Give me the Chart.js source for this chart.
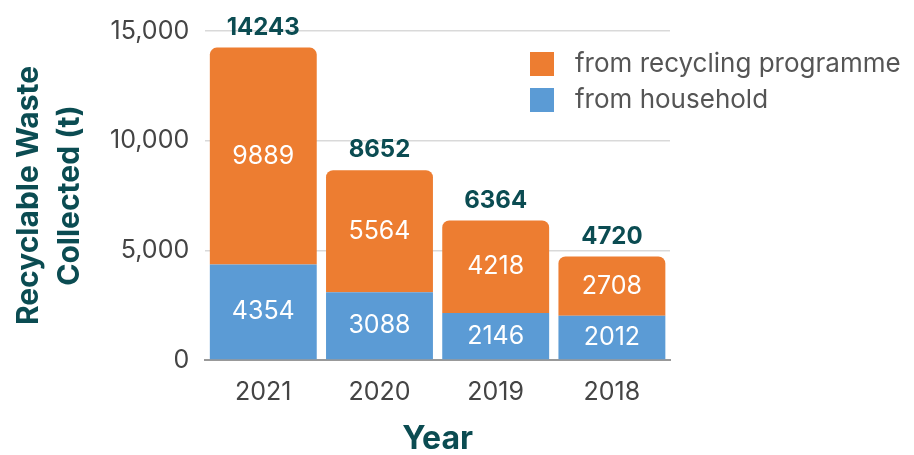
<!DOCTYPE html>
<html lang="en">
<head>
  <meta charset="UTF-8">
  <title>Recyclable Waste Collected</title>
  <script src="https://cdn.jsdelivr.net/npm/chart.js"></script>
  <style>
    body { margin: 0; background: #fff; }
    .chart-container { width: 914px; height: 455px; }
  </style>
</head>
<body>
  <div class="chart-container">
    <canvas id="wasteChart"></canvas>
  </div>

  <script>
    const years = ['2021', '2020', '2019', '2018'];
    const household = [4354, 3088, 2146, 2012];
    const programme = [9889, 5564, 4218, 2708];
    const totals = [14243, 8652, 6364, 4720];
    const yTicks = [0, 5000, 10000, 15000];

    const FONT = 'Inter, "Noto Sans", sans-serif';
    const TEAL = '#0b4c52';
    const ORANGE = '#ed7d31';
    const BLUE = '#5b9bd5';

    // white value labels inside segments + totals above each bar
    const labelPlugin = {
      id: 'labels',
      afterDatasetsDraw(chart) {
        const ctx = chart.ctx;
        ctx.save();
        ctx.textAlign = 'center';
        ctx.textBaseline = 'middle';
        chart.data.datasets.forEach((ds, i) => {
          const meta = chart.getDatasetMeta(i);
          meta.data.forEach((bar, j) => {
            ctx.fillStyle = '#fff';
            ctx.font = '25px ' + FONT;
            ctx.fillText(ds.data[j], bar.x, (bar.y + bar.base) / 2);
          });
        });
        const top = chart.getDatasetMeta(chart.data.datasets.length - 1);
        top.data.forEach((bar, j) => {
          ctx.fillStyle = TEAL;
          ctx.font = 'bold 24px ' + FONT;
          ctx.fillText(totals[j], bar.x, bar.y - 20);
        });
        ctx.restore();
      }
    };

    // legend drawn over the upper right corner
    const legendPlugin = {
      id: 'cornerLegend',
      afterDraw(chart) {
        const ctx = chart.ctx;
        const items = chart.data.datasets.slice().reverse();
        ctx.save();
        ctx.textBaseline = 'middle';
        ctx.textAlign = 'left';
        ctx.font = '26px ' + FONT;
        items.forEach((ds, i) => {
          const y = 64 + i * 36;
          ctx.fillStyle = ds.backgroundColor;
          ctx.fillRect(530, y - 12, 24, 24);
          ctx.fillStyle = '#555';
          ctx.fillText(ds.label, 575, y);
        });
        ctx.restore();
      }
    };

    new Chart(document.getElementById('wasteChart'), {
      type: 'bar',
      data: {
        labels: years,
        datasets: [
          {
            label: 'from household',
            data: household,
            backgroundColor: BLUE,
            borderRadius: 0
          },
          {
            label: 'from recycling programme',
            data: programme,
            backgroundColor: ORANGE,
            borderRadius: { topLeft: 7, topRight: 7, bottomLeft: 0, bottomRight: 0 },
            borderSkipped: false
          }
        ]
      },
      options: {
        responsive: true,
        maintainAspectRatio: false,
        animation: false,
        layout: { padding: { top: 11, right: 244, left: 5, bottom: 0 } },
        datasets: { bar: { barPercentage: 0.92, categoryPercentage: 1 } },
        plugins: {
          legend: { display: false },
          tooltip: { enabled: false }
        },
        scales: {
          x: {
            stacked: true,
            grid: { display: false },
            border: { color: '#999', width: 2 },
            ticks: { color: '#444', font: { family: FONT, size: 25, lineHeight: 1 }, padding: 12 },
            title: {
              display: true,
              text: 'Year',
              color: TEAL,
              font: { family: FONT, size: 32, weight: 'bold', lineHeight: 1 },
              padding: { top: 6, bottom: 0 }
            }
          },
          y: {
            stacked: true,
            min: 0,
            max: 15000,
            afterBuildTicks(axis) {
              axis.ticks = yTicks.map(v => ({ value: v }));
            },
            grid: { color: '#d9d9d9', drawTicks: false, lineWidth: 1.5 },
            border: { display: false },
            ticks: {
              color: '#444',
              font: { family: FONT, size: 25 },
              padding: 16,
              callback: v => v.toLocaleString('en-US')
            },
            title: {
              display: true,
              text: ['Recyclable Waste', 'Collected (t)'],
              color: TEAL,
              font: { family: FONT, size: 30, weight: 'bold', lineHeight: 1.35 },
              padding: { bottom: 4 }
            }
          }
        }
      },
      plugins: [labelPlugin, legendPlugin]
    });
  </script>
</body>
</html>
